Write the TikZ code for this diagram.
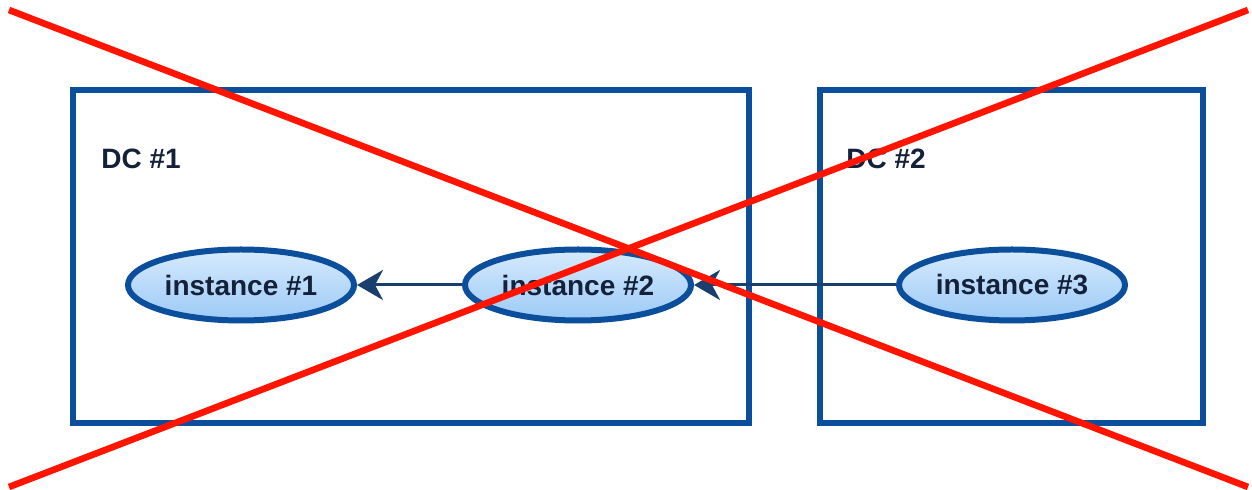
\documentclass[tikz,border=0pt]{standalone}
\usepackage{fontspec}
\setmainfont{Liberation Sans}
\usetikzlibrary{shapes.geometric,arrows.meta}
\definecolor{dcblue}{HTML}{0B4F9C}
\definecolor{arrowblue}{HTML}{1A3F6E}
\definecolor{textdark}{HTML}{14213A}
\definecolor{fillTop}{HTML}{D6EAFD}
\definecolor{fillBot}{HTML}{9CCAF6}
\definecolor{crossred}{HTML}{FF1400}
\tikzset{
  dcbox/.style={draw=dcblue, line width=2.7pt, fill=white},
  dclabel/.style={anchor=west, inner sep=0pt, text=textdark, font=\fontsize{14}{16}\selectfont\bfseries},
  inst/.style={ellipse, draw=dcblue, line width=3pt, top color=fillTop, bottom color=fillBot,
    minimum width=113pt, minimum height=35.5pt, inner sep=0pt, text=textdark,
    font=\fontsize{14}{16}\selectfont\bfseries},
  conn/.style={draw=arrowblue, line width=1.5pt, -{Stealth[length=13pt,width=15pt,inset=4pt]}},
  crossline/.style={draw=crossred, line width=3.3pt}
}
\begin{document}
\begin{tikzpicture}[x=0.5pt,y=-0.5pt]
\useasboundingbox (0,0) rectangle (1252,490);
\draw[dcbox] (73,90) rectangle (749,423);
\draw[dcbox] (820,90) rectangle (1203,423);
\node[dclabel] (dc1) at (101,159) {DC \#1};
\node[dclabel] (dc2) at (846,159) {DC \#2};
\node[inst] (i1) at (241,285) {instance \#1};
\node[inst] (i2) at (578,285) {instance \#2};
\node[inst] (i3) at (1012,285) {instance \#3};
\draw[conn] (i2.west) -- (i1.east);
\draw[conn] (i3.west) -- (i2.east);
\coordinate (a1) at (9,10);
\coordinate (a2) at (1248,487);
\coordinate (b1) at (1248,10);
\coordinate (b2) at (9,487);
\draw[crossline] (a1) -- (a2);
\draw[crossline] (b1) -- (b2);
\end{tikzpicture}
\end{document}
